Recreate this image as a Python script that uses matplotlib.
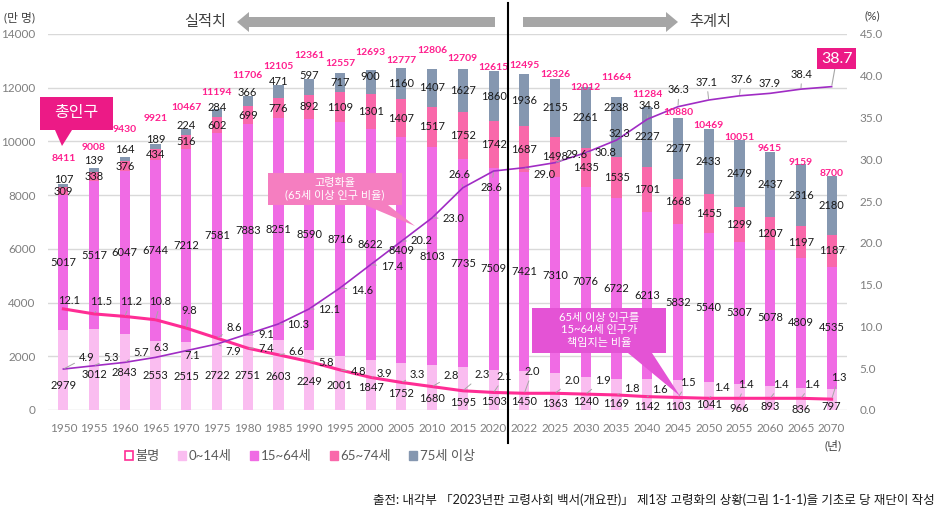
import numpy as np
import matplotlib.pyplot as plt
from matplotlib.patches import Polygon, Patch
from matplotlib.lines import Line2D
from matplotlib.ticker import FormatStrFormatter

plt.rcParams['font.family'] = ['Lato', 'Noto Sans CJK KR', 'DejaVu Sans']

# data (만 명 / %)
years = ['1950', '1955', '1960', '1965', '1970', '1975', '1980', '1985', '1990', '1995',
         '2000', '2005', '2010', '2015', '2020', '2022', '2025', '2030', '2035', '2040',
         '2045', '2050', '2055', '2060', '2065', '2070']
total = [8411, 9008, 9430, 9921, 10467, 11194, 11706, 12105, 12361, 12557,
         12693, 12777, 12806, 12709, 12615, 12495, 12326, 12012, 11664, 11284,
         10880, 10469, 10051, 9615, 9159, 8700]
age0_14 = [2979, 3012, 2843, 2553, 2515, 2722, 2751, 2603, 2249, 2001,
           1847, 1752, 1680, 1595, 1503, 1450, 1363, 1240, 1169, 1142,
           1103, 1041, 966, 893, 836, 797]
age15_64 = [5017, 5517, 6047, 6744, 7212, 7581, 7883, 8251, 8590, 8716,
            8622, 8409, 8103, 7735, 7509, 7421, 7310, 7076, 6722, 6213,
            5832, 5540, 5307, 5078, 4809, 4535]
age65_74 = [309, 338, 376, 434, 516, 602, 699, 776, 892, 1109,
            1301, 1407, 1517, 1752, 1742, 1687, 1498, 1435, 1535, 1701,
            1668, 1455, 1299, 1207, 1197, 1187]
age75 = [107, 139, 164, 189, 224, 284, 366, 471, 597, 717,
         900, 1160, 1407, 1627, 1860, 1936, 2155, 2261, 2238, 2227,
         2277, 2433, 2479, 2437, 2316, 2180]
aging_rate = [4.9, 5.3, 5.7, 6.3, 7.1, 7.9, 9.1, 10.3, 12.1, 14.6,
              17.4, 20.2, 23.0, 26.6, 28.6, 29.0, 29.6, 30.8, 32.3, 34.8,
              36.3, 37.1, 37.6, 37.9, 38.4, 38.7]
support_ratio = [12.1, 11.5, 11.2, 10.8, 9.8, 8.6, 7.4, 6.6, 5.8, 4.8,
                 3.9, 3.3, 2.8, 2.3, 2.1, 2.0, 2.0, 1.9, 1.8, 1.6,
                 1.5, 1.4, 1.4, 1.4, 1.4, 1.3]

# label placement (pixels)
down0_14 = [16, 5, 1, 0, 0, 2, 2, 1, 2, 2, 2, 7, 11, 14, 12, 11, 12, 8, 9, 12, 11, 8, 11, 8, 11, 7]
up75 = [6, 9, 9, 7, 6, 6, 8, 10, 11, 0, 5, 0, 0, 0, 0, 0, 0, 0, 19, 0, 0, 0, 0, 0, 0, 0]
up_total = [26, 21, 27, 25, 21, 17, 20, 19, 23, 10, 17, 8, 18, 10, 4, 9, 4, 0, 19, 12, 5, 3, 3, 3, 2, 3]
aging_off = [(23, -12), (17, -8), (16, -10), (6, -10), (6, 5), (16, 8), (18, 1), (20, 1), (20, 1),
             (22, 2), (21, 2), (20, -1), (21, 1), (-3, -13), (-2, 16), (20, 7), (22, -8), (20, 0),
             (3, -7), (2, -14), (1, -17), (-2, -18), (2, -16), (-1, -10), (1, -15)]
support_off = [(6, -8), (7, -12), (6, -15), (5, -18), (3, -18), (17, -11), (18, 0), (18, -3), (17, 1),
               (19, 2), (14, -4), (16, -8), (19, -11), (19, -16), (11, -16), (8, -22), (17, -13),
               (17, -14), (15, -6), (13, -7), (10, -15), (13, -11), (6, -14), (11, -14), (11, -14),
               (7, -22)]

C014 = '#FABDF0'
C1564 = '#F06BE4'
C6574 = '#F968AA'
C75 = '#8597B0'
PINK = '#EC1A86'
LINE_PINK = '#FF2D95'
PURPLE = '#A02CC4'
GRAY_TXT = '#7F7F7F'

W, H = 939, 513
fig = plt.figure(figsize=(W / 100, H / 100), dpi=100)
ax = fig.add_axes([48 / W, 1 - 410 / H, 799 / W, 376 / H])
ax2 = ax.twinx()


def fp(px, py):
    return (px / W, 1 - py / H)


x = np.arange(len(years))
bw = 0.33
b1 = np.array(age0_14)
b2 = b1 + np.array(age15_64)
b3 = b2 + np.array(age65_74)
ax.bar(x, age0_14, bw, color=C014, zorder=2)
ax.bar(x, age15_64, bw, bottom=b1, color=C1564, zorder=2)
ax.bar(x, age65_74, bw, bottom=b2, color=C6574, zorder=2)
ax.bar(x, age75, bw, bottom=b3, color=C75, zorder=2)

ax.set_xlim(-0.5, len(years) - 0.5)
ax.set_ylim(0, 14000)
ax.set_yticks(range(0, 14001, 2000))
ax.grid(axis='y', color='#D9D9D9', lw=1)
ax.set_axisbelow(True)
ax.set_xticks(x, years)
ax.tick_params(axis='both', length=0, labelsize=8.5, labelcolor=GRAY_TXT)
ax.tick_params(axis='x', pad=9)
ax.tick_params(axis='y', pad=9)

ax2.set_ylim(0, 45)
ax2.set_yticks(np.arange(0, 45.1, 5))
ax2.yaxis.set_major_formatter(FormatStrFormatter('%.1f'))
ax2.tick_params(axis='y', length=0, labelsize=8.5, labelcolor=GRAY_TXT, pad=9)
for a in (ax, ax2):
    for s in a.spines.values():
        s.set_visible(False)

ax2.plot(x, support_ratio, color=LINE_PINK, lw=2.2, zorder=3)
ax2.plot(x, aging_rate, color=PURPLE, lw=1.2, zorder=3)

lead = dict(arrowstyle='-', color='#A6A6A6', lw=0.7, shrinkA=1, shrinkB=1)


def put(xv, yv, text, dx, dy, trans, **kw):
    props = dict(fontsize=8, color='#1A1A1A', ha='center', va='center', zorder=5)
    props.update(kw)
    arrow = lead if (dx * dx + dy * dy) > 150 and trans is ax2.transData else None
    ax2.annotate(text, xy=(xv, yv), xycoords=trans, xytext=(dx, dy),
                 textcoords='offset pixels', arrowprops=arrow, **props)


for i in range(len(years)):
    put(i, age0_14[i] / 2, str(age0_14[i]), 0, -down0_14[i], ax.transData)
    put(i, b1[i] + age15_64[i] / 2, str(age15_64[i]), 0, 0, ax.transData)
    put(i, b2[i] + age65_74[i] / 2, str(age65_74[i]), 0, 0, ax.transData)
    put(i, b3[i] + age75[i] / 2, str(age75[i]), 0, up75[i], ax.transData)
    put(i, b3[i] + age75[i], str(total[i]), 0, up_total[i], ax.transData,
        color='#FF1F8E', fontweight='bold', fontsize=7.5)
    dx, dy = support_off[i]
    put(i, support_ratio[i], f'{support_ratio[i]:.1f}', dx, -dy, ax2.transData)
    if i < len(years) - 1:
        dx, dy = aging_off[i]
        put(i, aging_rate[i], f'{aging_rate[i]:.1f}', dx, -dy, ax2.transData)

last = len(years) - 1
ax2.annotate(f'{aging_rate[last]:.1f}', xy=(last, aging_rate[last]), xytext=(5, 28),
             textcoords='offset pixels', ha='center', va='center', fontsize=11.5,
             color='white', zorder=6,
             bbox=dict(boxstyle='square,pad=0.22', fc=PINK, ec='none'),
             arrowprops=dict(arrowstyle='-', color='#A6A6A6', lw=0.8, shrinkA=0, shrinkB=1))


def shape(pts, color):
    fig.add_artist(Polygon([fp(*p) for p in pts], closed=True, transform=fig.transFigure,
                           fc=color, ec='none', zorder=6))


# callouts
shape([(40, 97), (113, 97), (113, 130), (72, 130), (62, 146), (55, 130), (40, 130)], PINK)
fig.text(*fp(76.5, 113), '총인구', color='white', fontsize=11.5, ha='center', va='center', zorder=7)

shape([(268, 173), (402, 173), (402, 205), (388, 205), (415, 226), (365, 205), (268, 205)], '#F57EC0')
fig.text(*fp(335, 189), '고령화율\n(65세 이상 인구 비율)', color='white', fontsize=8,
         ha='center', va='center', linespacing=1.15, zorder=7)

shape([(532, 308), (666, 308), (666, 353), (652, 353), (680, 396), (628, 353), (532, 353)], '#E453D5')
fig.text(*fp(599, 330), '65세 이상 인구를\n15~64세 인구가\n책임지는 비율', color='white', fontsize=8,
         ha='center', va='center', linespacing=1.2, zorder=7)

# header arrows
shape([(237, 22), (249, 12), (249, 17), (495, 17), (495, 27), (249, 27), (249, 32)], '#A6A6A6')
shape([(523, 17), (666, 17), (666, 12), (678, 22), (666, 32), (666, 27), (523, 27)], '#A6A6A6')
fig.text(*fp(205, 22), '실적치', fontsize=11, color='#404040', ha='center', va='center')
fig.text(*fp(710, 22), '추계치', fontsize=11, color='#404040', ha='center', va='center')

# divider between actual and projection
fig.add_artist(Line2D([508 / W, 508 / W], [1 - 3 / H, 1 - 443 / H], color='black', lw=1.5,
                      transform=fig.transFigure, zorder=7))

fig.text(*fp(19, 17), '(만 명)', fontsize=8.5, color='#404040', ha='center', va='center')
fig.text(*fp(872, 16), '(%)', fontsize=8.5, color='#404040', ha='center', va='center')
fig.text(*fp(833, 445), '(년)', fontsize=8.5, color='#404040', ha='center', va='center')

handles = [Patch(fc='white', ec=LINE_PINK, lw=1.2), Patch(color=C014), Patch(color=C1564),
           Patch(color=C6574), Patch(color=C75)]
fig.legend(handles, ['불명', '0~14세', '15~64세', '65~74세', '75세 이상'], loc='center',
           bbox_to_anchor=fp(300, 456), ncol=5, frameon=False, fontsize=9.5,
           handlelength=0.6, handleheight=0.6, handletextpad=0.2, columnspacing=1.4,
           labelcolor='#595959')

fig.text(*fp(935, 500), '출전: 내각부 「2023년판 고령사회 백서(개요판)」 제1장 고령화의 상황(그림 1-1-1)을 기초로 당 재단이 작성',
         fontsize=9, color='#1A1A1A', ha='right', va='center')

fig.savefig('out.png', dpi=100)
